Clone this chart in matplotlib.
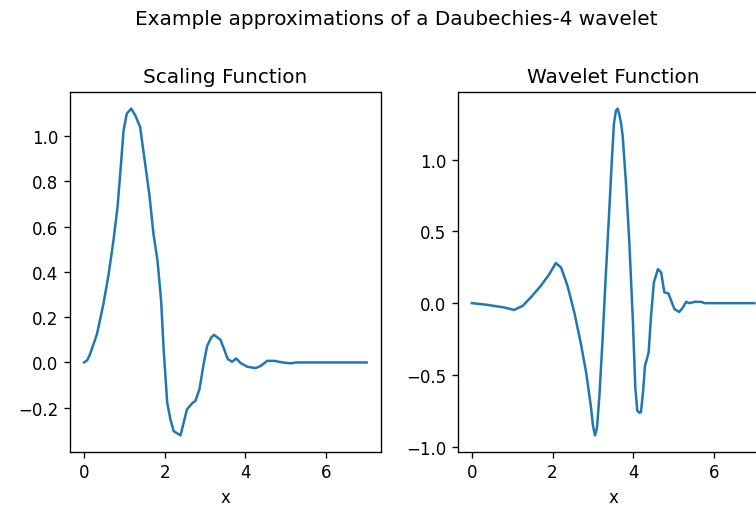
import matplotlib
matplotlib.use("Agg")
import matplotlib.pyplot as plt

# Scaling function
phi_x = [0, 0.08, 0.15, 0.32, 0.48, 0.61, 0.73, 0.83, 0.91, 0.98, 1.06, 1.17, 1.27,
         1.39, 1.48, 1.62, 1.72, 1.82, 1.91, 1.97, 2.06, 2.14, 2.22, 2.39, 2.47, 2.55,
         2.68, 2.76, 2.86, 2.97, 3.05, 3.15, 3.22, 3.38, 3.47, 3.56, 3.67, 3.77, 3.88,
         4.05, 4.25, 4.38, 4.54, 4.71, 4.92, 5.12, 5.25, 7.0]
phi_y = [0, 0.01, 0.037, 0.125, 0.258, 0.39, 0.54, 0.686, 0.863, 1.025, 1.099, 1.121,
         1.091, 1.04, 0.922, 0.74, 0.568, 0.45, 0.273, 0.066, -0.177, -0.251, -0.303,
         -0.322, -0.265, -0.207, -0.18, -0.17, -0.118, 0.0, 0.073, 0.11, 0.122, 0.10,
         0.059, 0.015, 0.003, 0.018, -0.003, -0.019, -0.025, -0.015, 0.007, 0.007,
         0.0, -0.004, 0.0, 0.0]

# Wavelet function
psi_x = [0, 0.39, 0.80, 1.05, 1.26, 1.46, 1.71, 1.92, 2.08, 2.21, 2.37, 2.54, 2.70,
         2.83, 2.95, 3.00, 3.05, 3.10, 3.16, 3.24, 3.32, 3.40, 3.47, 3.52, 3.57, 3.61,
         3.65, 3.70, 3.74, 3.82, 3.90, 3.99, 4.05, 4.10, 4.15, 4.19, 4.24, 4.29, 4.38,
         4.44, 4.51, 4.61, 4.69, 4.77, 4.87, 4.94, 5.02, 5.14, 5.23, 5.31, 5.39, 5.52,
         5.68, 5.77, 7.0]
psi_y = [0, -0.012, -0.03, -0.047, -0.019, 0.04, 0.121, 0.202, 0.279, 0.249, 0.121,
         -0.065, -0.28, -0.48, -0.72, -0.85, -0.921, -0.87, -0.65, -0.25, 0.2, 0.62,
         1.0, 1.25, 1.34, 1.355, 1.32, 1.25, 1.156, 0.83, 0.435, -0.123, -0.588,
         -0.75, -0.763, -0.76, -0.623, -0.437, -0.344, -0.089, 0.144, 0.237, 0.214,
         0.075, 0.068, 0.016, -0.042, -0.061, -0.03, 0.009, 0, 0.009, 0.009, 0, 0]

DPI = 120
fig = plt.figure(figsize=(756 / DPI, 509 / DPI), dpi=DPI)

ax1 = fig.add_axes([69.9 / 756, (509 - 452.7) / 509, 310.8 / 756, 359.4 / 509])
ax2 = fig.add_axes([457.7 / 756, (509 - 452.7) / 509, 310.8 / 756, 359.4 / 509])

ax1.plot(phi_x, phi_y, color="#1f77b4")
ax1.set_title("Scaling Function")
ax1.set_xlabel("x")

ax2.plot(psi_x, psi_y, color="#1f77b4")
ax2.set_title("Wavelet Function")
ax2.set_xlabel("x")

fig.suptitle("Example approximations of a Daubechies-4 wavelet", x=396.5 / 756)

fig.savefig("out.png", dpi=DPI)
